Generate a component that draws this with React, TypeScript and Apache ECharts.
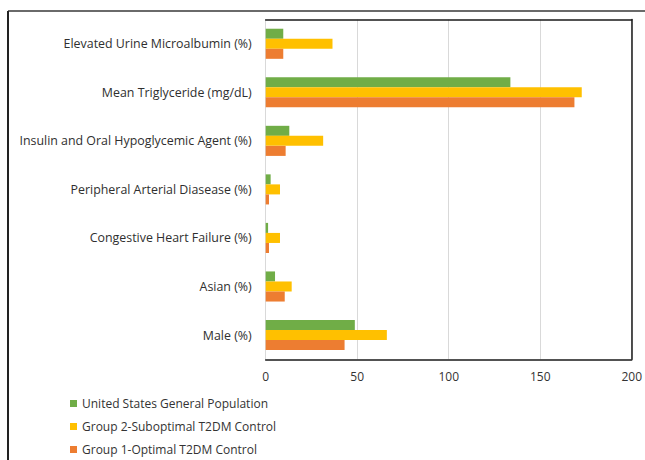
import React, { useEffect, useRef } from "react";
import * as echarts from "echarts";

const categories = [
  "Elevated Urine Microalbumin (%)",
  "Mean Triglyceride (mg/dL)",
  "Insulin and Oral Hypoglycemic Agent (%)",
  "Peripheral Arterial Diasease (%)",
  "Congestive Heart Failure (%)",
  "Asian (%)",
  "Male (%)",
];

const seriesNames = [
  "United States General Population",
  "Group 2-Suboptimal T2DM Control",
  "Group 1-Optimal T2DM Control",
];

const usGeneral = [9.6, 133.7, 12.9, 2.7, 1.3, 5.1, 48.7];
const group2 = [36.5, 172.7, 31.4, 7.8, 7.8, 14.2, 66.2];
const group1 = [9.6, 168.7, 10.9, 1.8, 1.8, 10.4, 43.1];

const colors = ["#70AD47", "#FFC000", "#ED7D31"];
const xTicks = [0, 50, 100, 150, 200];

const FONT = "'Open Sans', sans-serif";

export default function App() {
  const ref = useRef<HTMLDivElement>(null);
  useEffect(() => {
    if (!ref.current) return;
    const chart = echarts.init(ref.current, null, { renderer: "svg" });
    const values = [usGeneral, group2, group1];
    chart.setOption({
      animation: false,
      backgroundColor: "#ffffff",
      textStyle: { fontFamily: FONT },
      grid: { left: 265.7, right: 13, top: 19.5, bottom: 100.7, containLabel: false },
      legend: {
        orient: "vertical",
        left: 70,
        top: 396.5,
        padding: 0,
        height: 80,
        itemWidth: 7,
        itemHeight: 7,
        itemGap: 9,
        icon: "rect",
        textStyle: { fontSize: 12, color: "#333333", fontFamily: FONT, lineHeight: 14 },
        data: seriesNames,
      },
      xAxis: [
        {
          type: "value",
          min: xTicks[0],
          max: xTicks[xTicks.length - 1],
          interval: 50,
          axisLine: { show: true, lineStyle: { color: "#1a1a1a", width: 1.5 } },
          axisTick: { show: false },
          axisLabel: { fontSize: 12, color: "#333333", margin: 11, fontFamily: FONT },
          splitLine: { show: true, lineStyle: { color: "#d9d9d9", width: 1 } },
        },
        {
          type: "value",
          position: "top",
          min: 0,
          max: 200,
          axisLine: { show: true, onZero: false, lineStyle: { color: "#1a1a1a", width: 1.5 } },
          axisTick: { show: false },
          axisLabel: { show: false },
          splitLine: { show: false },
        },
      ],
      yAxis: [
        {
          type: "category",
          data: categories,
          inverse: true,
          axisLine: { show: true, lineStyle: { color: "#d9d9d9" } },
          axisTick: { show: false },
          axisLabel: { fontSize: 12.4, color: "#2f2f2f", margin: 14, fontFamily: FONT },
        },
        {
          type: "value",
          position: "right",
          axisLine: { show: true, onZero: false, lineStyle: { color: "#1a1a1a", width: 1.5 } },
          axisTick: { show: false },
          axisLabel: { show: false },
          splitLine: { show: false },
        },
      ],
      graphic: [
        { type: "line", shape: { x1: 8, y1: 11, x2: 645, y2: 11 }, style: { stroke: "#6a6a6a", lineWidth: 2 } },
        { type: "line", shape: { x1: 8, y1: 11, x2: 8, y2: 460 }, style: { stroke: "#222222", lineWidth: 2 } },
      ],
      series: seriesNames.map((name, i) => ({
        name,
        type: "bar",
        xAxisIndex: 0,
        yAxisIndex: 0,
        data: values[i],
        barGap: "0%",
        barCategoryGap: "38%",
        itemStyle: { color: colors[i] },
      })),
    });
    return () => chart.dispose();
  }, []);
  return <div ref={ref} style={{ width: 645, height: 460, position: "absolute", left: 0, top: 0 }} />;
}
